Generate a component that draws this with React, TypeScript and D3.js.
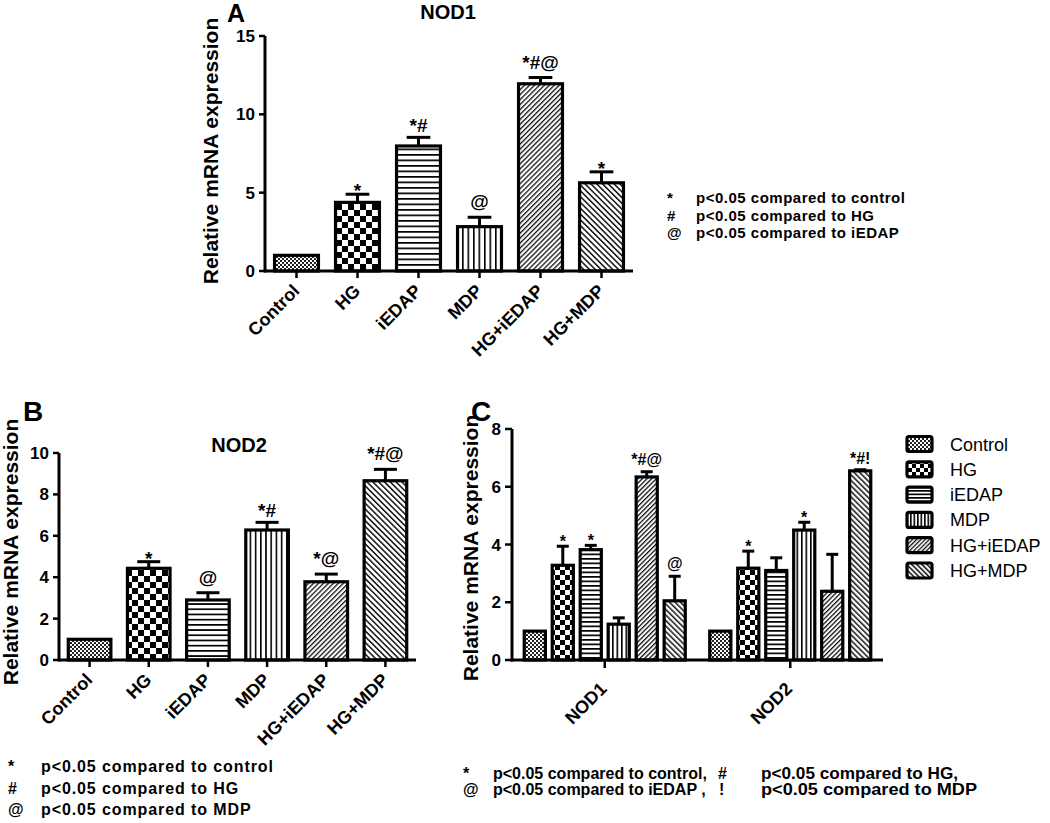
import React from "react";
import * as d3 from "d3";

const FONT = "'Liberation Sans', Arial, Helvetica, sans-serif";

// ---------- DATA ----------
const treatments = ["Control", "HG", "iEDAP", "MDP", "HG+iEDAP", "HG+MDP"];
const patternKeys = ["ctrl", "hg", "iedap", "mdp", "hgiedap", "hgmdp"];

// Panel A: NOD1
const nod1Values = [1.0, 4.38, 7.98, 2.83, 11.95, 5.63];
const nod1Sem = [0, 0.52, 0.55, 0.6, 0.4, 0.7];
const nod1Ann = ["", "*", "*#", "@", "*#@", "*"];
const nod1Ticks = [0, 5, 10, 15];

// Panel B: NOD2
const nod2Values = [1.0, 4.43, 2.9, 6.28, 3.78, 8.66];
const nod2Sem = [0, 0.32, 0.35, 0.37, 0.37, 0.55];
const nod2Ann = ["", "*", "@", "*#", "*@", "*#@"];
const nod2Ticks = [0, 2, 4, 6, 8, 10];

// Panel C: grouped
const groups = ["NOD1", "NOD2"];
const groupValues = [
  [1.0, 3.28, 3.82, 1.24, 6.34, 2.05],
  [1.0, 3.18, 3.1, 4.5, 2.38, 6.55],
];
const groupSem = [
  [0, 0.66, 0.15, 0.22, 0.18, 0.85],
  [0, 0.59, 0.44, 0.27, 1.28, 0.04],
];
const groupAnn = [
  ["", "*", "*", "", "*#@", "@"],
  ["", "*", "", "*", "", "*#!"],
];
const groupTicks = [0, 2, 4, 6, 8];

const legendA = [
  ["*", "p<0.05 compared to control"],
  ["#", "p<0.05 compared to HG"],
  ["@", "p<0.05 compared to iEDAP"],
];
const legendB = [
  ["*", "p<0.05 compared to control"],
  ["#", "p<0.05 compared to HG"],
  ["@", "p<0.05 compared to MDP"],
];
const legendCSymbols = [["*", "#"], ["@", "!"]];
const legendCTexts = [
  ["p<0.05 compared to control,", "p<0.05 compared to HG,"],
  ["p<0.05 compared to iEDAP ,", "p<0.05 compared to MDP"],
];

// ---------- PATTERNS ----------
function Patterns({ suffix, cell, hline, vline, diag }: any) {
  return (
    <>
      <pattern id={`ctrl${suffix}`} width={4} height={4} patternUnits="userSpaceOnUse">
        <rect width={4} height={4} fill="#fff" />
        <rect x={0} y={0} width={2} height={2} fill="#222" />
        <rect x={2} y={2} width={2} height={2} fill="#222" />
      </pattern>
      <pattern id={`hg${suffix}`} width={cell * 2} height={cell * 2} patternUnits="userSpaceOnUse">
        <rect width={cell * 2} height={cell * 2} fill="#fff" />
        <rect x={0} y={0} width={cell} height={cell} fill="#000" />
        <rect x={cell} y={cell} width={cell} height={cell} fill="#000" />
      </pattern>
      <pattern id={`iedap${suffix}`} width={8} height={hline} patternUnits="userSpaceOnUse">
        <rect width={8} height={hline} fill="#fff" />
        <rect x={0} y={0} width={8} height={1.7} fill="#000" />
      </pattern>
      <pattern id={`mdp${suffix}`} width={vline} height={8} patternUnits="userSpaceOnUse">
        <rect width={vline} height={8} fill="#fff" />
        <rect x={0} y={0} width={1.6} height={8} fill="#000" />
      </pattern>
      <pattern id={`hgiedap${suffix}`} width={diag} height={8} patternUnits="userSpaceOnUse" patternTransform="rotate(45)">
        <rect width={diag} height={8} fill="#fff" />
        <rect x={0} y={0} width={1.3} height={8} fill="#111" />
      </pattern>
      <pattern id={`hgmdp${suffix}`} width={diag + 0.6} height={8} patternUnits="userSpaceOnUse" patternTransform="rotate(-45)">
        <rect width={diag + 0.6} height={8} fill="#fff" />
        <rect x={0} y={0} width={1.5} height={8} fill="#111" />
      </pattern>
    </>
  );
}

function annOffset(a: string, big: boolean) {
  if (a === "*") return big ? 3 : 1;
  if (a.includes("@")) return big ? -9 : -7;
  return big ? -5 : -6;
}

// ---------- SIMPLE PANEL ----------
function SimplePanel({ values, sems, anns, ticks, yMax, yBottom, yTop, xLeft, xRight, suffix, annSize }: any) {
  const y = d3.scaleLinear().domain([0, yMax]).range([yBottom, yTop]);
  const x = d3.scaleBand().domain(treatments).range([xLeft, xRight]).paddingInner(0.28).paddingOuter(0.14);
  const bw = x.bandwidth();
  return (
    <g>
      {treatments.map((t, i) => {
        const x0 = x(t)!;
        const cx = x0 + bw / 2;
        const top = y(values[i]);
        const et = y(values[i] + sems[i]);
        const lx = cx + 4;
        const ly = yBottom + 21;
        return (
          <g key={t}>
            <rect x={x0} y={top} width={bw} height={yBottom - top} fill={`url(#${patternKeys[i]}${suffix})`} stroke="#000" strokeWidth={3.2} />
            {sems[i] > 0 && (
              <g stroke="#000" strokeWidth={3}>
                <line x1={cx} x2={cx} y1={top} y2={et} />
                <line x1={cx - bw * 0.27} x2={cx + bw * 0.27} y1={et} y2={et} />
              </g>
            )}
            {anns[i] && (
              <text x={cx} y={et + annOffset(anns[i], true)} textAnchor="middle" fontFamily={FONT} fontWeight="bold" fontSize={annSize}>
                {anns[i]}
              </text>
            )}
            <line x1={cx} x2={cx} y1={yBottom} y2={yBottom + 7} stroke="#000" strokeWidth={2.5} />
            <text
              x={lx}
              y={ly}
              transform={`rotate(-45, ${lx}, ${ly})`}
              textAnchor="end"
              fontFamily={FONT}
              fontWeight="bold"
              fontSize={18}
            >
              {t}
            </text>
          </g>
        );
      })}
      <line x1={xLeft - 1.5} x2={xRight + 1} y1={yBottom} y2={yBottom} stroke="#000" strokeWidth={3} />
      <line x1={xLeft - 1} x2={xLeft - 1} y1={yBottom + 1.5} y2={yTop} stroke="#000" strokeWidth={3} />
      {ticks.map((v: number) => (
        <g key={v}>
          <line x1={xLeft - 7} x2={xLeft - 1} y1={y(v)} y2={y(v)} stroke="#000" strokeWidth={2.5} />
          <text x={xLeft - 11} y={y(v) + 6} textAnchor="end" fontFamily={FONT} fontWeight="bold" fontSize={17}>
            {v}
          </text>
        </g>
      ))}
    </g>
  );
}

// ---------- GROUPED PANEL ----------
function GroupedPanel() {
  const yBottom = 660;
  const yTop = 429;
  const xLeft = 512;
  const xRight = 883;
  const y = d3.scaleLinear().domain([0, 8]).range([yBottom, yTop]);
  const x0 = d3.scaleBand().domain(groups).range([xLeft, xRight]).paddingInner(0.095).paddingOuter(0.0475);
  const x1 = d3.scaleBand().domain(treatments).range([0, x0.bandwidth()]).paddingInner(0.245).paddingOuter(0.1225);
  const bw = x1.bandwidth();
  return (
    <g>
      {groups.map((g, gi) => {
        const gx = x0(g)!;
        const gc = gx + x0.bandwidth() / 2;
        const lx = gc + 3;
        const ly = yBottom + 30;
        return (
          <g key={g}>
            {treatments.map((t, i) => {
              const bx = gx + x1(t)!;
              const cx = bx + bw / 2;
              const v = groupValues[gi][i];
              const s = groupSem[gi][i];
              const top = y(v);
              const et = y(v + s);
              const a = groupAnn[gi][i];
              return (
                <g key={t}>
                  <rect x={bx} y={top} width={bw} height={yBottom - top} fill={`url(#${patternKeys[i]}C)`} stroke="#000" strokeWidth={3.2} />
                  {s > 0 && (
                    <g stroke="#000" strokeWidth={3}>
                      <line x1={cx} x2={cx} y1={top} y2={et} />
                      <line x1={cx - 6} x2={cx + 6} y1={et} y2={et} />
                    </g>
                  )}
                  {a && (
                    <text x={cx} y={et + annOffset(a, false)} textAnchor="middle" fontFamily={FONT} fontWeight="bold" fontSize={16}>
                      {a}
                    </text>
                  )}
                </g>
              );
            })}
            <line x1={gc} x2={gc} y1={yBottom} y2={yBottom + 8} stroke="#000" strokeWidth={2.5} />
            <text
              x={lx}
              y={ly}
              transform={`rotate(-45, ${lx}, ${ly})`}
              textAnchor="end"
              fontFamily={FONT}
              fontWeight="bold"
              fontSize={18}
            >
              {g}
            </text>
          </g>
        );
      })}
      <line x1={xLeft - 1.5} x2={xRight} y1={yBottom} y2={yBottom} stroke="#000" strokeWidth={3} />
      <line x1={xLeft} x2={xLeft} y1={yBottom + 1.5} y2={yTop} stroke="#000" strokeWidth={3} />
      {groupTicks.map((v) => (
        <g key={v}>
          <line x1={xLeft - 7} x2={xLeft} y1={y(v)} y2={y(v)} stroke="#000" strokeWidth={2.5} />
          <text x={xLeft - 11} y={y(v) + 6} textAnchor="end" fontFamily={FONT} fontWeight="bold" fontSize={17}>
            {v}
          </text>
        </g>
      ))}
      {/* legend */}
      {treatments.map((t, i) => {
        const cy = 444 + i * 25.3;
        return (
          <g key={t}>
            <rect x={907} y={cy - 7.5} width={25} height={15} rx={2} fill={`url(#${patternKeys[i]}L)`} stroke="#000" strokeWidth={3.2} />
            <text x={950} y={cy + 6.5} fontFamily={FONT} fontSize={18}>
              {t}
            </text>
          </g>
        );
      })}
    </g>
  );
}

function YLabel({ x, y }: { x: number; y: number }) {
  return (
    <text
      x={x}
      y={y}
      transform={`rotate(-90, ${x}, ${y})`}
      textAnchor="middle"
      fontFamily={FONT}
      fontWeight="bold"
      fontSize={21}
    >
      Relative mRNA expression
    </text>
  );
}

const legendCSymX = [[463, 718], [463, 719]];
const legendCTextX = [[493, 761], [493, 761]];
const legendCTextLen = [197, 216];

export default function App() {
  return (
    <svg
      width={1050}
      height={823}
      style={{ position: "absolute", left: 0, top: 0, background: "#fff" }}
    >
      <defs>
        <Patterns suffix="A" cell={6} hline={5.5} vline={5.5} diag={3.5} />
        <Patterns suffix="B" cell={6} hline={5.2} vline={5.2} diag={3.5} />
        <Patterns suffix="C" cell={5} hline={4.5} vline={4.5} diag={3.3} />
        <Patterns suffix="L" cell={4} hline={3.5} vline={3.5} diag={3} />
      </defs>
      <rect width={1050} height={823} fill="#fff" />

      {/* Panel A */}
      <text x={227} y={22} fontFamily={FONT} fontWeight="bold" fontSize={25}>A</text>
      <text x={448} y={19} textAnchor="middle" fontFamily={FONT} fontWeight="bold" fontSize={20}>NOD1</text>
      <YLabel x={218} y={151} />
      <SimplePanel
        values={nod1Values}
        sems={nod1Sem}
        anns={nod1Ann}
        ticks={nod1Ticks}
        yMax={15}
        yBottom={271}
        yTop={36}
        xLeft={266}
        xRight={632}
        suffix="A"
        annSize={19}
      />
      {legendA.map((r, i) => (
        <g key={i} fontFamily={FONT} fontWeight="bold" fontSize={15}>
          <text x={667} y={203 + i * 17.5}>{r[0]}</text>
          <text x={696} y={203 + i * 17.5} letterSpacing={0.5}>{r[1]}</text>
        </g>
      ))}

      {/* Panel B */}
      <text x={23} y={421} fontFamily={FONT} fontWeight="bold" fontSize={28}>B</text>
      <text x={239} y={452} textAnchor="middle" fontFamily={FONT} fontWeight="bold" fontSize={20}>NOD2</text>
      <YLabel x={18} y={552} />
      <SimplePanel
        values={nod2Values}
        sems={nod2Sem}
        anns={nod2Ann}
        ticks={nod2Ticks}
        yMax={10}
        yBottom={660}
        yTop={453}
        xLeft={60}
        xRight={415}
        suffix="B"
        annSize={19}
      />
      {legendB.map((r, i) => (
        <g key={i} fontFamily={FONT} fontWeight="bold" fontSize={16}>
          <text x={8} y={772 + i * 21.5}>{r[0]}</text>
          <text x={41} y={772 + i * 21.5} letterSpacing={0.9}>{r[1]}</text>
        </g>
      ))}

      {/* Panel C */}
      <text x={471} y={421} fontFamily={FONT} fontWeight="bold" fontSize={28}>C</text>
      <YLabel x={478} y={548} />
      <GroupedPanel />
      {legendCTexts.map((r, i) => (
        <g key={i} fontFamily={FONT} fontWeight="bold" fontSize={16}>
          <text x={legendCSymX[i][0]} y={779 + i * 16}>{legendCSymbols[i][0]}</text>
          <text x={legendCTextX[i][0]} y={779 + i * 16}>{r[0]}</text>
          <text x={legendCSymX[i][1]} y={779 + i * 16}>{legendCSymbols[i][1]}</text>
          <text x={legendCTextX[i][1]} y={779 + i * 16} textLength={legendCTextLen[i]} lengthAdjust="spacingAndGlyphs">{r[1]}</text>
        </g>
      ))}
    </svg>
  );
}
